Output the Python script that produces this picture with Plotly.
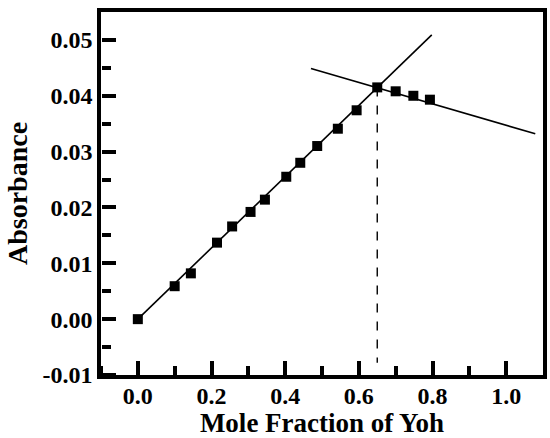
import plotly.graph_objects as go

mole_fraction = [0.0, 0.100, 0.144, 0.215, 0.256, 0.306, 0.345, 0.403, 0.441, 0.487,
                 0.543, 0.594, 0.650, 0.700, 0.748, 0.793]
absorbance = [0.0000, 0.0059, 0.0082, 0.0137, 0.0166, 0.0192, 0.0214, 0.0255, 0.0280, 0.0310,
              0.0341, 0.0374, 0.0415, 0.0408, 0.0400, 0.0393]

rise_x = [0.0, 0.798]
rise_y = [0.0, 0.0509]
fall_x = [0.470, 1.079]
fall_y = [0.0449, 0.0332]
drop_x = [0.650, 0.650]
drop_y = [0.0415, -0.0078]

x_range = [-0.1, 1.1]
y_range = [-0.01, 0.055]
x_ticks = [0.0, 0.2, 0.4, 0.6, 0.8, 1.0]
x_labels = ["0.0", "0.2", "0.4", "0.6", "0.8", "1.0"]
x_minor = [-0.1, 0.1, 0.3, 0.5, 0.7, 0.9]
y_ticks = [-0.01, 0.00, 0.01, 0.02, 0.03, 0.04, 0.05]
y_labels = ["-0.01", "0.00", "0.01", "0.02", "0.03", "0.04", "0.05"]
y_minor = [-0.005, 0.005, 0.015, 0.025, 0.035, 0.045]

font = "Liberation Serif"

fig = go.Figure()
fig.add_trace(go.Scatter(x=rise_x, y=rise_y, mode="lines",
                         line=dict(color="black", width=1.6), showlegend=False))
fig.add_trace(go.Scatter(x=fall_x, y=fall_y, mode="lines",
                         line=dict(color="black", width=1.6), showlegend=False))
fig.add_trace(go.Scatter(x=drop_x, y=drop_y, mode="lines", xaxis="x2", yaxis="y2",
                         line=dict(color="black", width=1.4, dash="dash"), showlegend=False))
fig.add_trace(go.Scatter(x=mole_fraction, y=absorbance, mode="markers",
                         marker=dict(symbol="square", size=10, color="black"),
                         showlegend=False))

# main axes: frame and labels
axis_common = dict(
    showgrid=False, zeroline=False, showline=True, linecolor="black", linewidth=3.5,
    mirror=True, ticks="",
    tickfont=dict(family=font, size=24, color="black", weight="bold"),
    automargin=False,
)
# overlay axes: tick marks pointing into the plot
tick_common = dict(
    showgrid=False, zeroline=False, showline=False, showticklabels=False,
    ticks="outside", ticklen=14, tickwidth=3.5, tickcolor="black",
    anchor="free", position=0, tickmode="array",
)
minor_common = dict(ticklen=9, tickwidth=3.5, tickcolor="black", ticks="outside",
                    showgrid=False, tickmode="array")

fig.update_layout(
    template="none",
    width=550, height=438,
    margin=dict(l=101, r=7, t=12, b=63),
    plot_bgcolor="white", paper_bgcolor="white",
    xaxis=dict(
        range=x_range, tickmode="array", tickvals=x_ticks, ticktext=x_labels,
        ticklabelstandoff=-4,
        title=dict(text="<b>Mole Fraction of Yoh</b>",
                   font=dict(family=font, size=27, color="black"), standoff=6),
        **axis_common,
    ),
    yaxis=dict(
        range=y_range, tickmode="array", tickvals=y_ticks, ticktext=y_labels,
        title=dict(text="<b>Absorbance</b>",
                   font=dict(family=font, size=28, color="black"), standoff=8),
        **axis_common,
    ),
    xaxis2=dict(
        overlaying="x", side="top", range=x_range, tickvals=x_ticks,
        minor=dict(tickvals=x_minor, **minor_common),
        **tick_common,
    ),
    yaxis2=dict(
        overlaying="y", side="right", range=y_range, tickvals=y_ticks,
        minor=dict(tickvals=y_minor, **minor_common),
        **tick_common,
    ),
)

fig.write_html("out.html", config={"displayModeBar": False},
               post_script="document.body.style.margin='0px';")
